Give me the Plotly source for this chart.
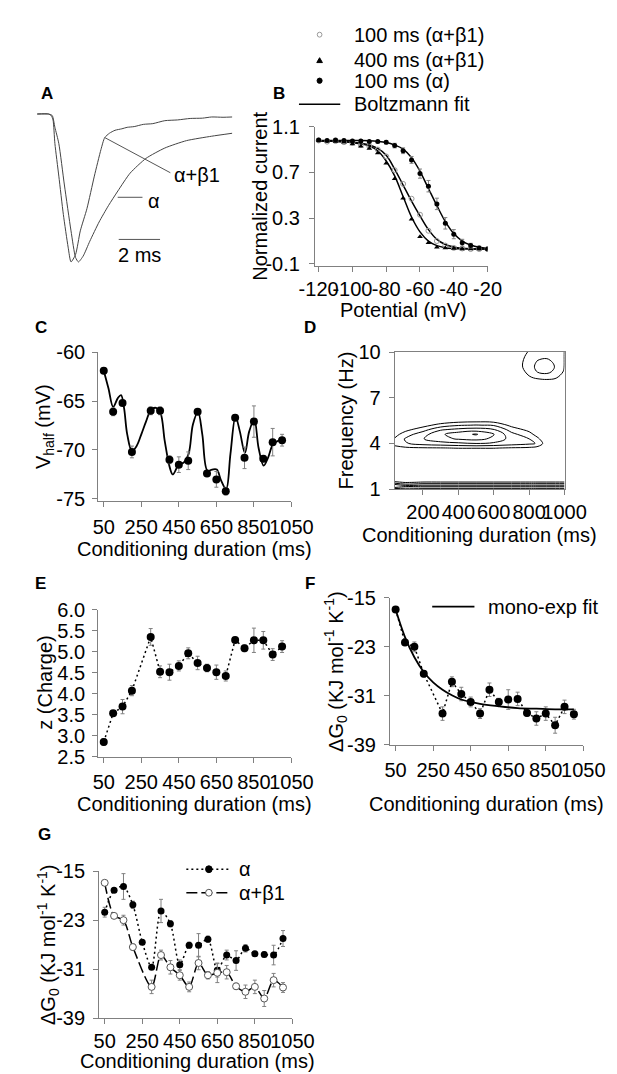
import plotly.graph_objects as go

W, H = 617, 1074
FONT = "Liberation Sans, Arial, sans-serif"
GREY = "#808080"
FS = 20

# ---------------- DATA ----------------
# Panel A: current traces (time in ms, normalized current)
a_t_ab = [0, 0.55, 0.68, 0.77, 0.86, 1.05, 1.27, 1.50, 1.64, 1.86, 2.09, 2.41, 2.77, 3.09, 3.27,
          3.5, 3.77, 4.1, 4.36, 4.7, 5.14, 5.6, 6.18, 6.8, 7.41, 8.0, 8.45, 9.0, 9.45]
a_i_ab = [0, 0, -0.01, -0.04, -0.20, -0.42, -0.68, -0.90, -1.00, -0.95, -0.79, -0.64, -0.42, -0.24, -0.16,
          -0.13, -0.11, -0.10, -0.09, -0.085, -0.07, -0.065, -0.045, -0.04, -0.03, -0.028, -0.02, -0.022, -0.02]
a_t_a = [0, 0.55, 0.73, 0.86, 1.05, 1.32, 1.64, 1.86, 2.00, 2.23, 2.55, 3.00, 3.45, 3.91, 4.50,
         5.27, 6.18, 7.23, 8.45, 9.45]
a_i_a = [0, 0, -0.01, -0.09, -0.20, -0.48, -0.79, -0.97, -1.00, -0.96, -0.86, -0.73, -0.62, -0.52, -0.40,
         -0.30, -0.23, -0.18, -0.15, -0.13]

# Panel B: steady-state inactivation
b_v = [-120, -115, -110, -105, -100, -95, -90, -85, -80, -75, -70, -65, -60, -55, -50, -45, -40, -35, -30, -25, -20]
b_ab100 = [0.98, 0.97, 0.975, 0.965, 0.96, 0.94, 0.93, 0.90, 0.84, 0.72, 0.60, 0.47, 0.33, 0.19, 0.10, 0.06, 0.04, 0.035, 0.03, 0.03, 0.03]
b_ab100_fit = [0.975, 0.975, 0.973, 0.97, 0.965, 0.955, 0.94, 0.91, 0.85, 0.73, 0.59, 0.45, 0.32, 0.20, 0.115, 0.07, 0.048, 0.037, 0.032, 0.03, 0.03]
b_ab400 = [0.98, 0.975, 0.97, 0.965, 0.95, 0.93, 0.91, 0.87, 0.78, 0.645, 0.475, 0.29, 0.137, 0.086, 0.045, 0.04, 0.035, 0.03, 0.03, 0.03, 0.03]
b_ab400_fit = [0.975, 0.975, 0.972, 0.968, 0.96, 0.95, 0.93, 0.89, 0.80, 0.67, 0.49, 0.31, 0.18, 0.10, 0.06, 0.042, 0.035, 0.032, 0.03, 0.03, 0.03]
b_a = [0.985, 0.98, 0.985, 0.98, 0.975, 0.975, 0.97, 0.97, 0.965, 0.935, 0.89, 0.81, 0.69, 0.58, 0.425, 0.255, 0.16, 0.085, 0.06, 0.04, 0.03]
b_a_err = [0.01, 0.01, 0.01, 0.01, 0.01, 0.01, 0.01, 0.01, 0.015, 0.02, 0.025, 0.03, 0.04, 0.05, 0.05, 0.05, 0.04, 0.03, 0.02, 0.015, 0.01]
b_a_fit = [0.98, 0.98, 0.98, 0.98, 0.98, 0.979, 0.977, 0.972, 0.962, 0.94, 0.905, 0.83, 0.71, 0.56, 0.41, 0.27, 0.165, 0.10, 0.065, 0.045, 0.035]

# Conditioning durations
dur = [50, 100, 150, 200, 300, 350, 400, 450, 500, 550, 600, 650, 700, 750, 800, 850, 900, 950, 1000]
dur_g = [50, 100, 150, 200, 250, 300, 350, 400, 450, 500, 550, 600, 650, 700, 750, 800, 850, 900, 950, 1000]

# Panel C: V_half
c_y = [-61.9, -66.1, -65.2, -70.2, -66.0, -66.0, -71.0, -71.5, -71.1, -66.1, -72.4, -73.0, -74.2, -66.7, -70.8, -67.1, -70.9, -69.2, -69.0]
c_err = [0.3, 0.4, 0.2, 0.6, 0.4, 0.4, 0.4, 0.8, 0.9, 0.2, 0.3, 0.8, 0.4, 0.3, 1.1, 1.6, 0.3, 1.4, 0.6]
c_fit_x = [50, 75, 100, 125, 142, 158, 175, 200, 225, 250, 275, 302, 328, 352, 375, 402, 418, 452, 475, 502,
           525, 552, 575, 602, 627, 652, 675, 702, 725, 752, 775, 802, 825, 852, 875, 902, 925, 952, 975, 1002]
c_fit_y = [-61.9, -63.7, -65.6, -64.7, -64.4, -65.7, -68.4, -70.1, -69.6, -68.4, -67.1, -65.9, -65.7, -66.2, -69.1,
           -71.8, -72.5, -71.4, -71.3, -70.4, -67.4, -66.1, -68.4, -72.1, -72.0, -72.0, -73.1, -74.0, -70.4, -66.6,
           -68.1, -70.3, -68.1, -66.9, -69.8, -71.6, -70.8, -69.4, -69.1, -68.9]

# Panel D: wavelet power (contour grid)
d_x = [40, 100, 200, 300, 400, 500, 600, 700, 800, 850, 900, 950, 1000]
d_y = [1.0, 1.15, 1.3, 1.45, 1.6, 2.5, 3.4, 3.7, 4.0, 4.3, 4.6, 4.9, 5.2, 5.5, 6.0, 7.0, 7.8, 8.3, 8.7, 9.0, 9.3, 9.7, 10.0]
d_z = [
    [5.5, 5.5, 5.5, 5.5, 5.5, 5.5, 5.5, 5.5, 5.5, 5.5, 5.5, 5.5, 5.5],
    [3.5, 4.3, 4.1, 4.1, 4.1, 4.1, 4.1, 4.1, 4.1, 4.1, 4.1, 4.1, 4.1],
    [3.1, 2.3, 2.6, 2.6, 2.6, 2.6, 2.6, 2.6, 2.6, 2.6, 2.6, 2.6, 2.6],
    [1.3, 0.9, 1.1, 1.1, 1.1, 1.1, 1.1, 1.1, 1.1, 1.1, 1.1, 1.1, 1.1],
    [0.2, 0.2, 0.2, 0.2, 0.2, 0.2, 0.2, 0.2, 0.2, 0.2, 0.2, 0.2, 0.2],
    [0, 0, 0, 0, 0, 0, 0, 0, 0, 0, 0, 0, 0],
    [0, 0, 0, 0, 0, 0, 0, 0, 0, 0, 0, 0, 0],
    [0.7, 0.8, 0.9, 0.95, 1.05, 1.05, 1.05, 0.9, 0.8, 0.5, 0, 0, 0],
    [1.3, 1.9, 2.4, 2.6, 2.8, 3.0, 2.8, 2.5, 2.2, 1.9, 0.2, 0, 0],
    [1.1, 2.1, 2.95, 3.7, 4.1, 4.3, 3.8, 2.6, 2.0, 1.2, 0, 0, 0],
    [0.6, 1.5, 2.6, 3.8, 4.6, 5.1, 4.05, 2.3, 1.4, 0.5, 0, 0, 0],
    [0.2, 0.7, 1.6, 2.9, 3.3, 3.5, 3.1, 1.6, 0.7, 0, 0, 0, 0],
    [0, 0.1, 0.6, 1.4, 1.9, 2.05, 1.9, 0.7, 0, 0, 0, 0, 0],
    [0, 0, 0, 0.2, 0.5, 0.6, 0.5, 0, 0, 0, 0, 0, 0],
    [0, 0, 0, 0, 0, 0, 0, 0, 0, 0, 0, 0, 0],
    [0, 0, 0, 0, 0, 0, 0, 0, 0, 0, 0, 0, 0],
    [0, 0, 0, 0, 0, 0, 0, 0.1, 0.2, 0.2, 0.2, 0.2, 0.2],
    [0, 0, 0, 0, 0, 0, 0, 0.2, 0.9, 1.1, 1.2, 1.05, 0.6],
    [0, 0, 0, 0, 0, 0, 0, 0.3, 1.2, 2.1, 2.3, 1.7, 0.85],
    [0, 0, 0, 0, 0, 0, 0, 0.3, 1.4, 2.4, 2.6, 1.9, 0.95],
    [0, 0, 0, 0, 0, 0, 0, 0.3, 1.4, 2.2, 2.4, 1.8, 0.97],
    [0, 0, 0, 0, 0, 0, 0, 0.4, 1.2, 1.7, 1.8, 1.5, 0.98],
    [0, 0, 0, 0, 0, 0, 0, 0.5, 1.05, 1.4, 1.4, 1.3, 0.99],
]

# Panel E: charge z
e_y = [2.85, 3.53, 3.69, 4.07, 5.35, 4.52, 4.51, 4.66, 4.96, 4.73, 4.61, 4.51, 4.42, 5.28, 5.08, 5.27, 5.27, 4.93, 5.12]
e_err = [0.08, 0.04, 0.17, 0.12, 0.2, 0.14, 0.19, 0.12, 0.13, 0.16, 0.09, 0.17, 0.12, 0.06, 0.08, 0.29, 0.21, 0.14, 0.14]

# Panel F: dG0 (alpha+beta1)
f_y = [-16.9, -22.3, -23.0, -27.4, -33.9, -28.7, -30.7, -32.0, -33.9, -30.0, -32.0, -31.6, -31.5, -33.8, -34.7, -33.9, -35.8, -32.8, -34.0]
f_err = [0.3, 0.3, 0.8, 0.5, 1.1, 0.8, 1.1, 0.8, 0.8, 1.1, 0.6, 1.6, 1.1, 0.5, 1.1, 1.1, 1.3, 1.1, 0.8]
f_fit_x = [50, 100, 150, 200, 250, 300, 350, 400, 500, 600, 700, 800, 900, 1000]
f_fit_y = [-16.9, -21.4, -24.7, -27.1, -28.8, -30.0, -30.9, -31.6, -32.3, -32.7, -33.0, -33.1, -33.2, -33.2]

# Panel G: dG0 (alpha)
g_a = [-21.7, -18.1, -17.5, -20.5, -26.6, -30.7, -21.5, -23.6, -30.3, -27.1, -27.1, -26.1, -31.2, -28.7, -29.6, -27.6, -28.5, -28.6, -28.7, -26.0]
g_a_err = [0.8, 0.3, 2.1, 0.6, 0.3, 0.3, 1.9, 0.5, 0.8, 0.5, 1.9, 0.5, 1.1, 0.8, 1.6, 0.6, 0.4, 0.4, 1.6, 1.3]

# ---------------- HELPERS ----------------
def xd(a, b):
    return [a / W, b / W]

def yd(top, bot):
    return [1 - bot / H, 1 - top / H]

def px(x):
    return x / W

def py(y):
    return 1 - y / H

def axis(domain, rng, anchor, tickvals, ticktext=None, **kw):
    d = dict(domain=domain, range=rng, anchor=anchor, tickvals=tickvals, tickangle=0,
             showline=True, linecolor=GREY, linewidth=1, ticks="outside", ticklen=5,
             tickwidth=1, tickcolor=GREY, showgrid=False, zeroline=False,
             tickfont=dict(family=FONT, size=FS, color="black"), fixedrange=True)
    if ticktext is not None:
        d["ticktext"] = ticktext
    d.update(kw)
    return d

ERR = dict(type="data", color=GREY, thickness=1, width=2)

fig = go.Figure()

# ---- A ----
fig.add_trace(go.Scatter(x=a_t_ab, y=a_i_ab, mode="lines", line=dict(color="#444", width=1, shape="spline", smoothing=0.6),
                         xaxis="x", yaxis="y", hoverinfo="skip"))
fig.add_trace(go.Scatter(x=a_t_a, y=a_i_a, mode="lines", line=dict(color="#444", width=1, shape="spline", smoothing=0.6),
                         xaxis="x", yaxis="y", hoverinfo="skip"))

# ---- B ----
for fit in (b_ab100_fit, b_ab400_fit, b_a_fit):
    fig.add_trace(go.Scatter(x=b_v, y=fit, mode="lines", line=dict(color="black", width=1.5, shape="spline"),
                             xaxis="x2", yaxis="y2"))
fig.add_trace(go.Scatter(x=b_v, y=b_ab100, mode="markers",
                         marker=dict(symbol="circle-open", size=5, color="#999", line=dict(width=1)),
                         xaxis="x2", yaxis="y2"))
fig.add_trace(go.Scatter(x=b_v, y=b_ab400, mode="markers",
                         marker=dict(symbol="triangle-up", size=5, color="black"),
                         xaxis="x2", yaxis="y2"))
fig.add_trace(go.Scatter(x=b_v, y=b_a, mode="markers", error_y=dict(array=b_a_err, **ERR),
                         marker=dict(symbol="circle", size=5, color="black"),
                         xaxis="x2", yaxis="y2"))

# ---- C ----
fig.add_trace(go.Scatter(x=c_fit_x, y=c_fit_y, mode="lines", line=dict(color="black", width=1.8, shape="spline", smoothing=1),
                         xaxis="x3", yaxis="y3"))
fig.add_trace(go.Scatter(x=dur, y=c_y, mode="markers", error_y=dict(array=c_err, **ERR),
                         marker=dict(size=8, color="black"), xaxis="x3", yaxis="y3"))

# ---- D ----
fig.add_trace(go.Contour(x=d_x, y=d_y, z=d_z, xaxis="x4", yaxis="y4", showscale=False,
                         contours=dict(coloring="lines", start=1, end=5, size=1, showlabels=False),
                         colorscale=[[0, "black"], [1, "black"]], line=dict(width=1),
                         hoverinfo="skip"))

# ---- E ----
fig.add_trace(go.Scatter(x=dur, y=e_y, mode="lines+markers", error_y=dict(array=e_err, **ERR),
                         line=dict(color="black", width=1.5, dash="2px,3px"),
                         marker=dict(size=8, color="black"), xaxis="x5", yaxis="y5"))

# ---- F ----
fig.add_trace(go.Scatter(x=dur, y=f_y, mode="lines+markers", error_y=dict(array=f_err, **ERR),
                         line=dict(color="black", width=1.5, dash="2px,3px"),
                         marker=dict(size=8, color="black"), xaxis="x6", yaxis="y6"))
fig.add_trace(go.Scatter(x=f_fit_x, y=f_fit_y, mode="lines", line=dict(color="black", width=1.8, shape="spline"),
                         xaxis="x6", yaxis="y6"))

# ---- G ----
fig.add_trace(go.Scatter(x=dur_g, y=g_a, mode="lines+markers", error_y=dict(array=g_a_err, **ERR),
                         line=dict(color="black", width=1.5, dash="2px,3px", shape="spline", smoothing=0.8),
                         marker=dict(size=7, color="black"), xaxis="x7", yaxis="y7"))
fig.add_trace(go.Scatter(x=dur, y=f_y, mode="lines+markers", error_y=dict(array=f_err, **ERR),
                         line=dict(color="black", width=1.5, dash="11px,4px", shape="spline", smoothing=0.8),
                         marker=dict(size=7, color="white", line=dict(color="#555", width=1)),
                         xaxis="x7", yaxis="y7"))

# ---------------- LAYOUT ----------------
xt_dur = [50, 250, 450, 650, 850, 1050]
layout = dict(
    width=W, height=H, margin=dict(l=0, r=0, t=0, b=0),
    paper_bgcolor="white", plot_bgcolor="white",
    font=dict(family=FONT, size=FS, color="black"),
    showlegend=False,
    # A
    xaxis=dict(domain=xd(14, 222), range=[0, 9.45], visible=False, anchor="y", fixedrange=True),
    yaxis=dict(domain=yd(90, 255), range=[-1.0464, 0.0464], visible=False, anchor="x", fixedrange=True),
    # B
    xaxis2=axis(xd(310, 494), [-122.2, -20], "y2", [-120, -100, -80, -60, -40, -20],
                ["-120", "-100", "-80", "-60", "-40", "-20"], ticklabelstandoff=0),
    yaxis2=axis(yd(110, 252), [-0.117, 1.1], "x2", [-0.1, 0.3, 0.7, 1.1],
                ["-0.1", "0.3", "0.7", "1.1"], ticklabelstandoff=5),
    # C
    xaxis3=axis(xd(79, 285), [20, 1050], "y3", xt_dur, ticklabelstandoff=3),
    yaxis3=axis(yd(340, 492), [-75.2, -60], "x3", [-75, -70, -65, -60],
                ["-75", "-70", "-65", "-60"], ticklabelstandoff=3),
    # D
    xaxis4=axis(xd(395, 576), [40, 1000], "y4", [200, 400, 600, 800, 1000], mirror=True,
                ticklabelstandoff=0),
    yaxis4=axis(yd(340, 480), [1, 10], "x4", [1, 4, 7, 10], mirror=True, ticklabelstandoff=4),
    # E
    xaxis5=axis(xd(79, 285), [20, 1050], "y5", xt_dur, ticklabelstandoff=2),
    yaxis5=axis(yd(603, 753), [2.5, 6.0], "x5", [2.5, 3.0, 3.5, 4.0, 4.5, 5.0, 5.5, 6.0],
                tickformat=".1f", ticklabelstandoff=3),
    # F
    xaxis6=axis(xd(390, 596), [20, 1050], "y6", xt_dur, ticklabelstandoff=2),
    yaxis6=axis(yd(591, 741), [-39, -15], "x6", [-39, -31, -23, -15],
                ["-39", "-31", "-23", "-15"], ticklabelstandoff=4),
    # G
    xaxis7=axis(xd(80, 286), [20, 1050], "y7", xt_dur, ticklabelstandoff=0),
    yaxis7=axis(yd(870, 1020), [-39, -15], "x7", [-39, -31, -23, -15],
                ["-39", "-31", "-23", "-15"], ticklabelstandoff=4),
)
fig.update_layout(**layout)

shapes = []
ann = []

def text(x, y, s, size=FS, bold=False, angle=0, xanchor="center", xref="paper", yref="paper"):
    ann.append(dict(x=x, y=y, xref=xref, yref=yref, text=("<b>%s</b>" % s) if bold else s, showarrow=False,
                    textangle=angle, xanchor=xanchor, yanchor="middle",
                    font=dict(family=FONT, size=size, color="black")))

def pline(x0, y0, x1, y1, color="black", width=1.5, dash="solid"):
    shapes.append(dict(type="line", xref="paper", yref="paper", x0=px(x0), x1=px(x1), y0=py(y0), y1=py(y1),
                       line=dict(color=color, width=width, dash=dash)))

def pcircle(cx, cy, r, fill, edge):
    shapes.append(dict(type="circle", xref="paper", yref="paper", x0=px(cx - r), x1=px(cx + r),
                       y0=py(cy + r), y1=py(cy - r), fillcolor=fill, line=dict(color=edge, width=1)))

# Panel A: scale bar and label pointers (data coordinates of panel A)
sl = dict(color="#555", width=1)
shapes.append(dict(type="line", xref="x", yref="y", x0=3.95, x1=5.95, y0=-0.848, y1=-0.848, line=sl))
shapes.append(dict(type="line", xref="x", yref="y", x0=3.9, x1=5.1, y0=-0.563, y1=-0.563, line=sl))
shapes.append(dict(type="line", xref="x", yref="y", x0=3.27, x1=6.45, y0=-0.159, y1=-0.397, line=sl))
text(4.95, -0.95, "2 ms", xref="x", yref="y")
text(5.27, -0.59, "α", xref="x", yref="y", xanchor="left")
text(6.55, -0.41, "α+β1", xref="x", yref="y", xanchor="left")

# Panel B legend
pcircle(315, 16, 2.5, "white", "#999")
shapes.append(dict(type="path", xref="paper", yref="paper",
                   path="M %f,%f L %f,%f L %f,%f Z" % (px(312), py(44.5), px(318), py(44.5), px(315), py(39.5)),
                   fillcolor="black", line=dict(color="black", width=1)))
pcircle(315, 63, 2.7, "black", "black")
pline(293, 87, 337, 87)
text(px(350), py(16), "100 ms (α+β1)", xanchor="left")
text(px(350), py(42), "400 ms (α+β1)", xanchor="left")
text(px(350), py(63), "100 ms (α)", xanchor="left")
text(px(350), py(87), "Boltzmann fit", xanchor="left")

# Panel F legend
pline(435, 600, 480, 600, width=1.8)
text(px(492), py(600), "mono-exp fit", xanchor="left")

# Panel G legend
pline(173, 868, 220, 868, width=1.5, dash="2px,3px")
pcircle(197, 868, 3.5, "black", "black")
text(px(227), py(868), "α", xanchor="left")
pline(173, 892, 220, 892, width=1.5, dash="11px,4px")
pcircle(197, 892, 3.5, "white", "#555")
text(px(227), py(892), "α+β1", xanchor="left")

# panel letters
for lx, ly, s in [(24, 76, "A"), (272, 76, "B"), (18, 315, "C"), (305, 315, "D"),
                  (18, 576, "E"), (305, 576, "F"), (22, 833, "G")]:
    text(px(lx), py(ly), s, size=17, bold=True)

# axis titles
text(px(252), py(181), "Normalized current", angle=-90)
text(px(404), py(297), "Potential (mV)")
text(px(22), py(416), "V<sub>half</sub> (mV)", angle=-90)
text(px(182), py(541), "Conditioning duration (ms)")
text(px(343), py(410), "Frequency (Hz)", angle=-90)
text(px(485), py(527), "Conditioning duration (ms)")
text(px(22), py(678), "z (Charge)", angle=-90)
text(px(182), py(801), "Conditioning duration (ms)")
text(px(332), py(666), "ΔG<sub>0</sub> (KJ mol<sup>-1</sup> K<sup>-1</sup>)", angle=-90)
text(px(493), py(801), "Conditioning duration (ms)")
text(px(26), py(945), "ΔG<sub>0</sub> (KJ mol<sup>-1</sup> K<sup>-1</sup>)", angle=-90)
text(px(185), py(1064), "Conditioning duration (ms)")

fig.update_layout(annotations=ann, shapes=shapes)

fig.write_html("out.html")
